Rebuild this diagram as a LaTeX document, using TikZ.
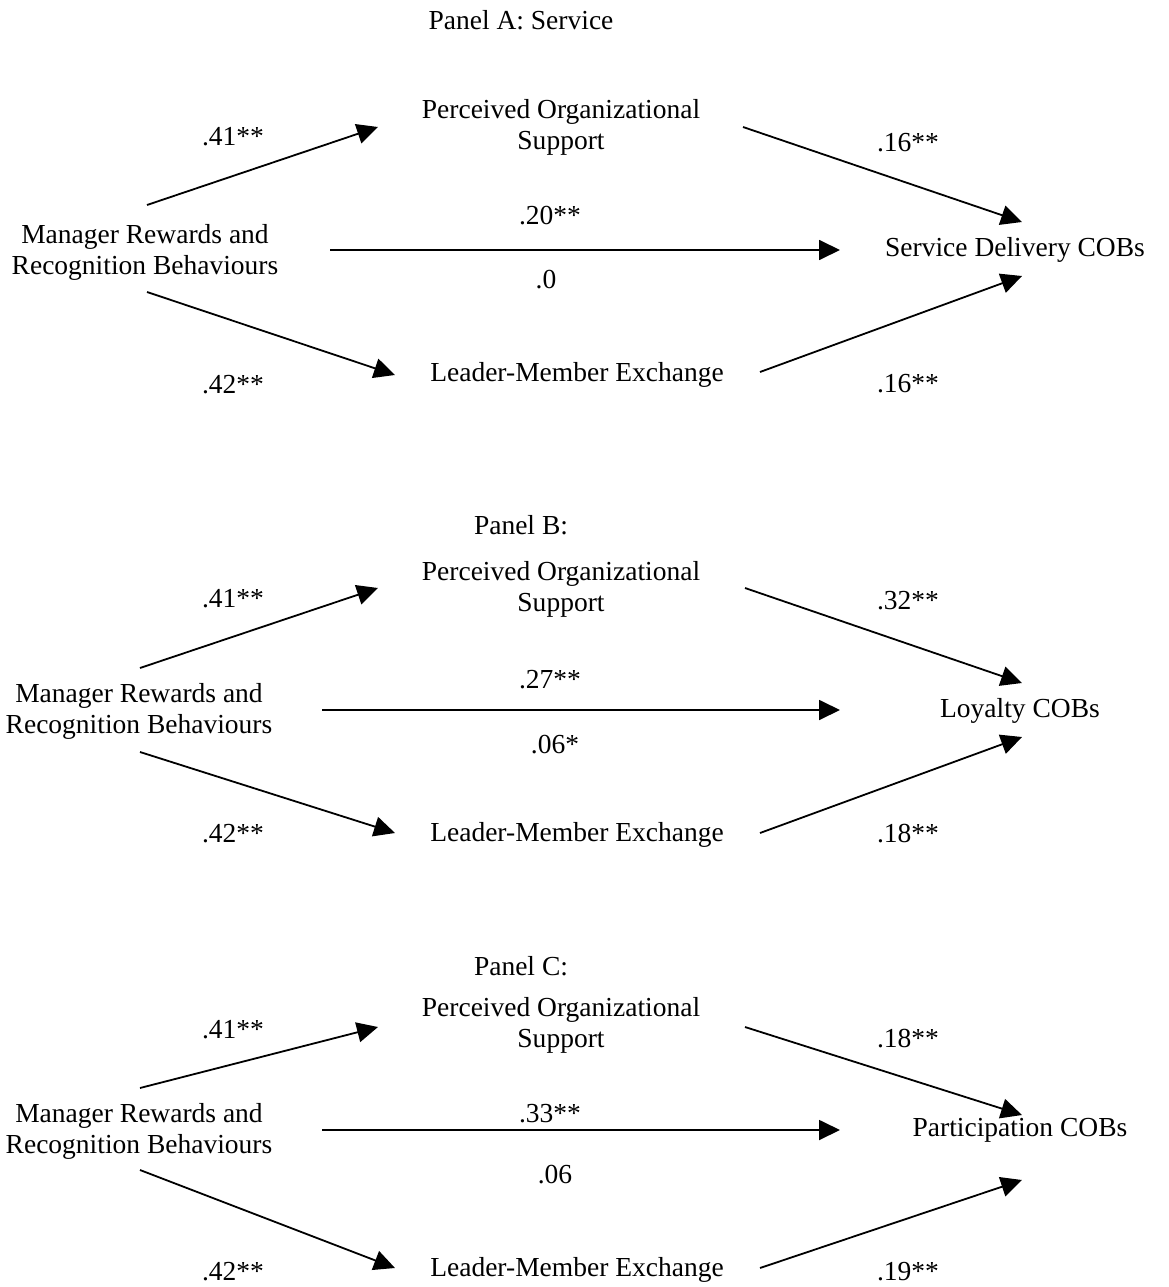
\documentclass[tikz,border=0pt]{standalone}
\usepackage{fontspec}
\setmainfont{Liberation Serif}
\usetikzlibrary{arrows.meta}
\begin{document}
\begin{tikzpicture}[x=1pt,y=-1pt,
  txt/.style={inner sep=0pt,align=center,font=\fontsize{27.5}{31}\selectfont},
  lbl/.style={inner sep=0pt,font=\fontsize{27.5}{31}\selectfont},
  path/.style={line width=1.8pt,-{Triangle[length=21pt,width=20pt]}}]
\useasboundingbox (0,0) rectangle (1168,1287);
% ---------- Panel A ----------
\node[txt] (titA) at (521,20) {Panel A: Service};
\node[txt] (posA) at (561,127) {Perceived Organizational\\Support};
\node[txt] (mrA) at (145,252) {Manager Rewards and\\Recognition Behaviours};
\node[txt] (outA) at (1015,250) {Service Delivery COBs};
\node[txt] (lmxA) at (577,375) {Leader-Member Exchange};
\coordinate (a1s) at (147,205); \coordinate (a1e) at (378,127);
\coordinate (a2s) at (743,127); \coordinate (a2e) at (1022,222);
\coordinate (a3s) at (330,250); \coordinate (a3e) at (840,250);
\coordinate (a4s) at (147,292); \coordinate (a4e) at (395,375);
\coordinate (a5s) at (760,372); \coordinate (a5e) at (1022,276);
\draw[path] (a1s) -- (a1e);
\draw[path] (a2s) -- (a2e);
\draw[path] (a3s) -- (a3e);
\draw[path] (a4s) -- (a4e);
\draw[path] (a5s) -- (a5e);
\node[lbl] (lA1) at (233,137) {.41**};
\node[lbl] (lA2) at (908,143) {.16**};
\node[lbl] (lA3) at (550,216) {.20**};
\node[lbl] (lA4) at (546,280) {.0};
\node[lbl] (lA5) at (233,385) {.42**};
\node[lbl] (lA6) at (908,384) {.16**};
% ---------- Panel B ----------
\node[txt] (titB) at (521,525) {Panel B:};
\node[txt] (posB) at (561,589) {Perceived Organizational\\Support};
\node[txt] (mrB) at (139,711) {Manager Rewards and\\Recognition Behaviours};
\node[txt] (outB) at (1020,711) {Loyalty COBs};
\node[txt] (lmxB) at (577,835) {Leader-Member Exchange};
\coordinate (b1s) at (140,668); \coordinate (b1e) at (378,588);
\coordinate (b2s) at (745,588); \coordinate (b2e) at (1022,683);
\coordinate (b3s) at (322,710); \coordinate (b3e) at (840,710);
\coordinate (b4s) at (140,752); \coordinate (b4e) at (395,833);
\coordinate (b5s) at (760,833); \coordinate (b5e) at (1022,737);
\draw[path] (b1s) -- (b1e);
\draw[path] (b2s) -- (b2e);
\draw[path] (b3s) -- (b3e);
\draw[path] (b4s) -- (b4e);
\draw[path] (b5s) -- (b5e);
\node[lbl] (lB1) at (233,599) {.41**};
\node[lbl] (lB2) at (908,601) {.32**};
\node[lbl] (lB3) at (550,680) {.27**};
\node[lbl] (lB4) at (555,745) {.06*};
\node[lbl] (lB5) at (233,834) {.42**};
\node[lbl] (lB6) at (908,834) {.18**};
% ---------- Panel C ----------
\node[txt] (titC) at (521,966) {Panel C:};
\node[txt] (posC) at (561,1025) {Perceived Organizational\\Support};
\node[txt] (mrC) at (139,1131) {Manager Rewards and\\Recognition Behaviours};
\node[txt] (outC) at (1020,1130) {Participation COBs};
\node[txt] (lmxC) at (577,1270) {Leader-Member Exchange};
\coordinate (c1s) at (140,1088); \coordinate (c1e) at (378,1027);
\coordinate (c2s) at (745,1027); \coordinate (c2e) at (1022,1115);
\coordinate (c3s) at (322,1130); \coordinate (c3e) at (840,1130);
\coordinate (c4s) at (140,1170); \coordinate (c4e) at (395,1268);
\coordinate (c5s) at (760,1268); \coordinate (c5e) at (1022,1180);
\draw[path] (c1s) -- (c1e);
\draw[path] (c2s) -- (c2e);
\draw[path] (c3s) -- (c3e);
\draw[path] (c4s) -- (c4e);
\draw[path] (c5s) -- (c5e);
\node[lbl] (lC1) at (233,1030) {.41**};
\node[lbl] (lC2) at (908,1039) {.18**};
\node[lbl] (lC3) at (550,1114) {.33**};
\node[lbl] (lC4) at (555,1175) {.06};
\node[lbl] (lC5) at (233,1272) {.42**};
\node[lbl] (lC6) at (908,1272) {.19**};
\end{tikzpicture}
\end{document}
